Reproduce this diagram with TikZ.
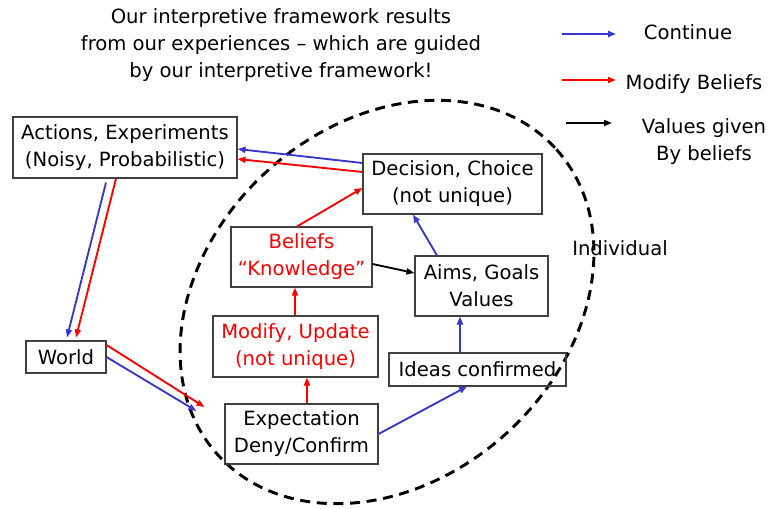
\documentclass[tikz,border=0pt]{standalone}
\usepackage{fontspec}
\setmainfont{DejaVu Sans}
\usetikzlibrary{arrows.meta,calc}
\definecolor{azul}{RGB}{55,55,205}
\definecolor{rojo}{RGB}{255,0,0}

\begin{document}
\begin{tikzpicture}[x=0.75pt,y=-0.75pt,
    >={Triangle[length=6pt,width=4.5pt]},
    texto/.style={align=center, font=\fontsize{14.7}{20.25}\selectfont},
    caja/.style={texto, draw=black!75, line width=0.8pt, inner sep=0pt},
    azulf/.style={azul, line width=1.4pt, ->},
    rojof/.style={rojo, line width=1.4pt, ->},
    negraf/.style={black, line width=1.4pt, ->}]
  \useasboundingbox (0,0) rectangle (769,508);

  % titulo
  \node[texto] (tit) at (281,45) {Our interpretive framework results\\from our experiences – which are guided\\by our interpretive framework!};

  % leyenda
  \coordinate (l1a) at (562,34);  \coordinate (l1b) at (616,34);
  \coordinate (l2a) at (562,80);  \coordinate (l2b) at (616,80);
  \coordinate (l3a) at (566,123); \coordinate (l3b) at (612,123);
  \draw[azulf] (l1a)--(l1b);
  \draw[rojof] (l2a)--(l2b);
  \draw[negraf] (l3a)--(l3b);
  \node[texto] (ley1) at (688,32) {Continue};
  \node[texto] (ley2) at (694,84) {Modify Beliefs};
  \node[texto] (ley3) at (704,142) {Values given\\By beliefs};

  % individuo
  \draw[line width=2.2pt, dash pattern=on 7.5pt off 5pt, rotate around={42:(387,302)}] (387,302) ellipse [x radius=228, y radius=177.5];
  \node[texto] (ind) at (620,248) {Individual};

  % cajas
  \node[caja, minimum width=168pt, minimum height=45.75pt] (act) at (125,147.5) {Actions, Experiments\\(Noisy, Probabilistic)};
  \node[caja, minimum width=60pt, minimum height=24pt] (wor) at (66,357) {World};
  \node[caja, minimum width=134.25pt, minimum height=45pt] (dec) at (452.5,184) {Decision, Choice\\(not unique)};
  \node[caja, rojo, draw=black!75, minimum width=105.75pt, minimum height=45pt] (bel) at (301.5,257) {Beliefs\\“Knowledge”};
  \node[caja, minimum width=99.75pt, minimum height=45pt] (aim) at (481.5,286) {Aims, Goals\\Values};
  \node[caja, rojo, draw=black!75, minimum width=123.75pt, minimum height=45.75pt] (mod) at (295.5,346.5) {Modify, Update\\(not unique)};
  \node[caja, minimum width=132.75pt, minimum height=24.75pt] (ide) at (477.5,369.5) {Ideas confirmed};
  \node[caja, minimum width=114.75pt, minimum height=45pt] (exp) at (301.5,434) {Expectation\\Deny/Confirm};

  % flechas
  \draw[azulf] (dec.west |- 0,163) -- (act.east |- 0,149);
  \draw[rojof] (dec.west |- 0,172) -- (act.east |- 0,159);
  \draw[azulf] ($(act.south)+(-19,4)$) -- ($(wor.north)+(1,-3)$);
  \draw[rojof] ($(act.south)+(-9,0)$) -- ($(wor.north)+(10,-3)$);
  \draw[rojof] (wor.east |- 0,345) -- ($(exp.west)+(-20,-27)$);
  \draw[azulf] (wor.east) -- ($(exp.west)+(-28,-23)$);
  \draw[rojof] (exp.north -| 307,0) -- (mod.south -| 307,0);
  \draw[rojof] (mod.north -| 295,0) -- (bel.south -| 295,0);
  \draw[rojof] (bel.north -| 297,0) -- (dec.west |- 0,188);
  \draw[negraf] (bel.east |- 0,264) -- (aim.west |- 0,273);
  \draw[azulf] (aim.north -| 437,0) -- (dec.south -| 413,0);
  \draw[azulf] (ide.north -| 460,0) -- (aim.south -| 460,0);
  \draw[azulf] (exp.east) -- (ide.south -| 467,0);
\end{tikzpicture}
\end{document}
